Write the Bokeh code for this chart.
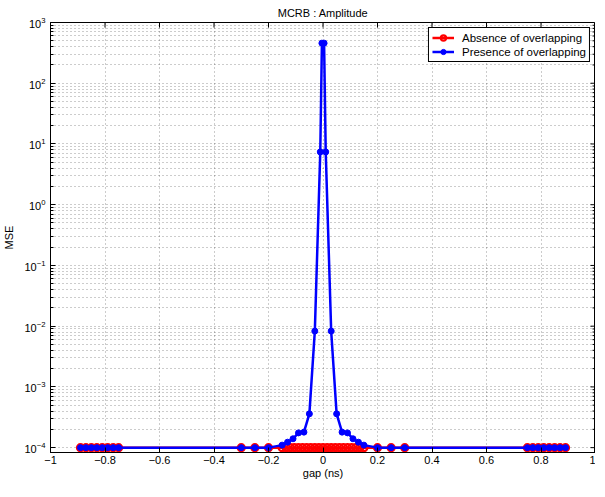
import math
from bokeh.plotting import figure
from bokeh.models import Range1d, FixedTicker, Legend, LegendItem, LogTickFormatter
from bokeh.embed import file_html
from bokeh.resources import INLINE

# ---- data ----
gap_absence = [-0.89, -0.87, -0.85, -0.83, -0.81, -0.79, -0.77, -0.75,
               -0.30, -0.25, -0.20,
               -0.150, -0.135, -0.120, -0.105, -0.090, -0.075, -0.060, -0.045, -0.030,
               -0.015, 0.0, 0.015, 0.030, 0.045, 0.060, 0.075, 0.090, 0.105, 0.120,
               0.135, 0.150,
               0.20, 0.25, 0.30,
               0.75, 0.77, 0.79, 0.81, 0.83, 0.85, 0.87, 0.89]
mse_absence = [1e-4] * len(gap_absence)

gap_presence = [-0.89, -0.87, -0.85, -0.83, -0.81, -0.79, -0.77, -0.75,
                -0.30, -0.25, -0.20,
                -0.15, -0.13, -0.11, -0.09, -0.07, -0.05, -0.03, -0.01, -0.004,
                0.004, 0.01, 0.03, 0.05, 0.07, 0.09, 0.11, 0.13, 0.15,
                0.20, 0.25, 0.30,
                0.75, 0.77, 0.79, 0.81, 0.83, 0.85, 0.87, 0.89]
mse_presence = [1e-4, 1e-4, 1e-4, 1e-4, 1e-4, 1e-4, 1e-4, 1e-4,
                1e-4, 1e-4, 1e-4,
                1.1e-4, 1.23e-4, 1.4e-4, 1.75e-4, 1.8e-4, 3.6e-4, 8.3e-3, 7.4, 457.0,
                457.0, 7.4, 8.3e-3, 3.6e-4, 1.8e-4, 1.75e-4, 1.4e-4, 1.23e-4, 1.1e-4,
                1e-4, 1e-4, 1e-4,
                1e-4, 1e-4, 1e-4, 1e-4, 1e-4, 1e-4, 1e-4, 1e-4]

x_ticks = [-1, -0.8, -0.6, -0.4, -0.2, 0, 0.2, 0.4, 0.6, 0.8, 1]
x_tick_labels = ["\u22121", "\u22120.8", "\u22120.6", "\u22120.4", "\u22120.2", "0",
                 "0.2", "0.4", "0.6", "0.8", "1"]
y_ticks = [1e-4, 1e-3, 1e-2, 1e-1, 1e0, 1e1, 1e2, 1e3]
y_minor = [m * d for d in [1e-4, 1e-3, 1e-2, 1e-1, 1e0, 1e1, 1e2] for m in range(2, 10)]

FONT = "Liberation Sans"
X_MIN, X_MAX = -1, 1
Y_MIN, Y_MAX = 10 ** -4.08, 1e3

p = figure(width=595, height=481, y_axis_type="log",
           x_range=Range1d(X_MIN, X_MAX), y_range=Range1d(Y_MIN, Y_MAX),
           output_backend="svg", toolbar_location=None,
           title="MCRB : Amplitude",
           min_border_left=40, min_border_right=0, min_border_top=2, min_border_bottom=0)

p.title.align = "center"
p.title.text_font = FONT
p.title.text_font_size = "11px"
p.title.text_font_style = "normal"
p.title.text_color = "black"
p.title.standoff = 8

p.outline_line_color = "black"
p.outline_line_alpha = 1.0

# axes
p.xaxis.ticker = FixedTicker(ticks=x_ticks)
p.xaxis.major_label_overrides = {t: l for t, l in zip(x_ticks, x_tick_labels)}
p.yaxis.ticker = FixedTicker(ticks=y_ticks, minor_ticks=y_minor)
p.yaxis.formatter = LogTickFormatter()
for ax in (p.xaxis[0], p.yaxis[0]):
    ax.axis_line_color = "black"
    ax.major_tick_in = 5
    ax.major_tick_out = 0
    ax.minor_tick_in = 3
    ax.minor_tick_out = 0
    ax.major_label_text_font = FONT
    ax.major_label_text_font_size = "11px"
    ax.major_label_text_color = "black"
    ax.axis_label_text_font = FONT
    ax.axis_label_text_font_size = "11px"
    ax.axis_label_text_font_style = "normal"
    ax.axis_label_text_color = "black"
p.xaxis.minor_tick_line_color = None
p.xaxis.axis_label = "gap (ns)"
p.xaxis.axis_label_standoff = 0
p.xaxis.major_label_standoff = 3
p.yaxis.axis_label = "MSE"
p.yaxis.axis_label_standoff = 6
p.yaxis.major_label_standoff = 5

# grid
for g in (p.xgrid[0], p.ygrid[0]):
    g.grid_line_color = "black"
    g.grid_line_alpha = 0.4
    g.grid_line_dash = "1 3"
    g.grid_line_width = 1
p.ygrid.minor_grid_line_color = "black"
p.ygrid.minor_grid_line_alpha = 0.4
p.ygrid.minor_grid_line_dash = "1 3"

# inward ticks on the top and right edges of the box (half of each dash is clipped by the frame)
p.scatter(x_ticks, [Y_MAX] * len(x_ticks), marker="dash", angle=math.pi / 2, size=10,
          line_color="black", line_width=1)
p.scatter([X_MAX] * len(y_ticks), y_ticks, marker="dash", size=10,
          line_color="black", line_width=1)
p.scatter([X_MAX] * len(y_minor), y_minor, marker="dash", size=6,
          line_color="black", line_width=1)

# data glyphs
rl = p.line(gap_absence, mse_absence, line_color="red", line_width=2.5)
rs = p.scatter(gap_absence, mse_absence, marker="circle", size=7, fill_color=None,
               line_color="red", line_width=2.2)
bl = p.line(gap_presence, mse_presence, line_color="blue", line_width=2.5)
bs = p.scatter(gap_presence, mse_presence, marker="circle", size=6, fill_color="blue",
               line_color="blue", line_width=1)

legend = Legend(items=[LegendItem(label="Absence of overlapping", renderers=[rl, rs]),
                       LegendItem(label="Presence of overlapping", renderers=[bl, bs])],
                location="top_right",
                border_line_color="black", border_line_width=1, border_line_alpha=1,
                background_fill_color="white", background_fill_alpha=1,
                label_text_font=FONT, label_text_font_size="11.5px",
                label_text_color="black",
                glyph_width=22, glyph_height=13, label_height=13, label_standoff=8,
                spacing=1, padding=3, margin=5)
p.add_layout(legend)

open("out.html", "w").write(file_html(p, INLINE))
